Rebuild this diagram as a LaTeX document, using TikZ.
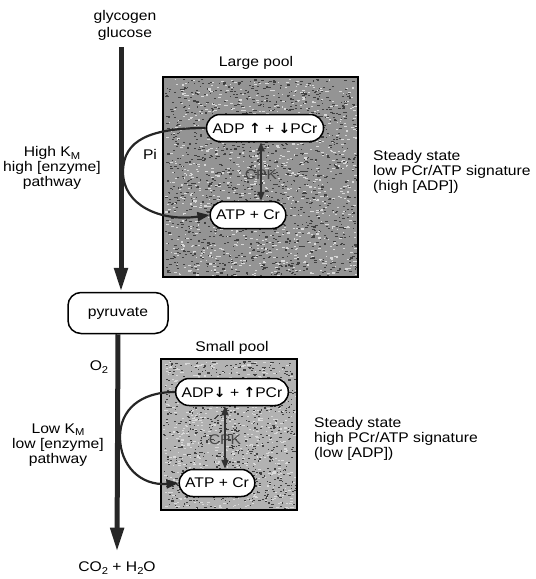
\documentclass[tikz,border=0pt]{standalone}
\usepackage{fontspec}
\setmainfont{Liberation Sans}[FakeStretch=1.12]
\newfontfamily\symfont{DejaVu Sans}
\usetikzlibrary{arrows.meta,shapes.misc}
\newcommand{\KMsub}{K\raisebox{-0.35ex}{\fontsize{10}{10}\selectfont M}}
\newcommand{\subtwo}{\raisebox{-0.35ex}{\fontsize{10}{10}\selectfont 2}}
\newcommand{\upar}{{\symfont\bfseries ↑}}
\newcommand{\dnar}{{\symfont\bfseries ↓}}
\begin{document}
\begin{tikzpicture}[x=1pt,y=-1pt,
  every node/.style={font=\fontsize{14}{15}\selectfont, inner sep=1pt},
  pill/.style={rounded rectangle, draw=black, line width=1.5pt, fill=white, inner xsep=5pt, minimum height=27pt},
  pool/.style={draw=black, line width=1.3pt},
  speck/.style={fill=black!75},
  lspeck/.style={fill=white!85!black},
  mainline/.style={line width=5pt, draw=black!85},
  pilink/.style={line width=2.2pt, draw=black!85, -{Triangle[length=12pt,width=9pt]}},
  cpkarrow/.style={line width=2pt, draw=black!80, {Triangle[length=9pt,width=7pt]}-{Triangle[length=9pt,width=7pt]}},
  sidetext/.style={align=left, anchor=north west},
  lefttext/.style={align=center}
]
\useasboundingbox (0,0) rectangle (536,579);
% pools
\fill[black!42] (163,77) rectangle (358,277);
\fill[black!30] (161,359) rectangle (297,510);
\pgfmathsetseed{7}
\foreach \i in {1,...,1400}{
  \pgfmathsetmacro{\px}{165+191*rnd}
  \pgfmathsetmacro{\py}{79+196*rnd}
  \fill[speck] (\px,\py) rectangle ++(1.2+1.8*rnd,1.1);
}
\foreach \i in {1,...,900}{
  \pgfmathsetmacro{\px}{165+191*rnd}
  \pgfmathsetmacro{\py}{79+196*rnd}
  \fill[lspeck] (\px,\py) rectangle ++(1.2+2*rnd,1.1);
}
\foreach \i in {1,...,900}{
  \pgfmathsetmacro{\px}{163+132*rnd}
  \pgfmathsetmacro{\py}{361+147*rnd}
  \fill[speck] (\px,\py) rectangle ++(1+1.5*rnd,1.1);
}
\foreach \i in {1,...,600}{
  \pgfmathsetmacro{\px}{163+132*rnd}
  \pgfmathsetmacro{\py}{361+147*rnd}
  \fill[lspeck] (\px,\py) rectangle ++(1.2+2*rnd,1.1);
}
\draw[pool] (163,77) rectangle (358,277);
\draw[pool] (161,359) rectangle (297,510);
% labels
\node (glyc) at (125,17) {glycogen};
\node (gluc) at (125,34) {glucose};
\coordinate (gtop) at (121,47);
\node (large) at (256,63) {Large pool};
\node (small) at (232,348) {Small pool};
% nodes large
\node[text=black!72] (cpk) at (261,175) {CPK};
\node[pill] (adp) at (265,128) {ADP \upar{} + \dnar{}PCr};
\node[pill] (atp) at (248,215) {ATP + Cr};
% pyruvate
\node[draw, line width=1.5pt, fill=white, rounded corners=13pt, minimum width=100pt, minimum height=41pt] (pyr) at (118,313) {pyruvate};
% main arrow top
\draw[mainline, -{Triangle[length=24pt,width=13pt]}] (gtop) -- (gtop |- pyr.north);
% CPK
\draw[cpkarrow] (adp.south -| cpk) -- (atp.north -| cpk);
\node (pi) at (150,154) {Pi};
\draw[pilink] (adp.west) .. controls (150,128) and (123,140) .. (123,172) .. controls (123,205) and (160,222) .. (atp.west);
% left texts
\node[lefttext] (hk) at (52,168) {High \KMsub\\high [enzyme]\\pathway};
\node[sidetext] (ss1) at (372,149) {Steady state\\low PCr/ATP signature\\(high [ADP])};
% small pool
\node[text=black!72] (cpks) at (225,440) {CPK};
\node[pill] (adps) at (232,392) {ADP\dnar{} + \upar{}PCr};
\node[pill] (atps) at (217,483) {ATP + Cr};
\draw[cpkarrow] (adps.south -| cpks) -- (atps.north -| cpks);
\node (o2) at (99,367) {O\subtwo};
\node (co2) at (117,568) {CO\subtwo{} + H\subtwo O};
\draw[mainline, -{Triangle[length=24pt,width=13pt]}] (pyr.south) -- ([yshift=9pt]co2.north);
\draw[pilink] (adps.west) .. controls (140,392) and (120,410) .. (120,437) .. controls (120,465) and (140,486) .. (atps.west);
\node[lefttext] (lk) at (58,445) {Low \KMsub\\low [enzyme]\\pathway};
\node[sidetext] (ss2) at (313,416) {Steady state\\high PCr/ATP signature\\(low [ADP])};
\end{tikzpicture}
\end{document}
